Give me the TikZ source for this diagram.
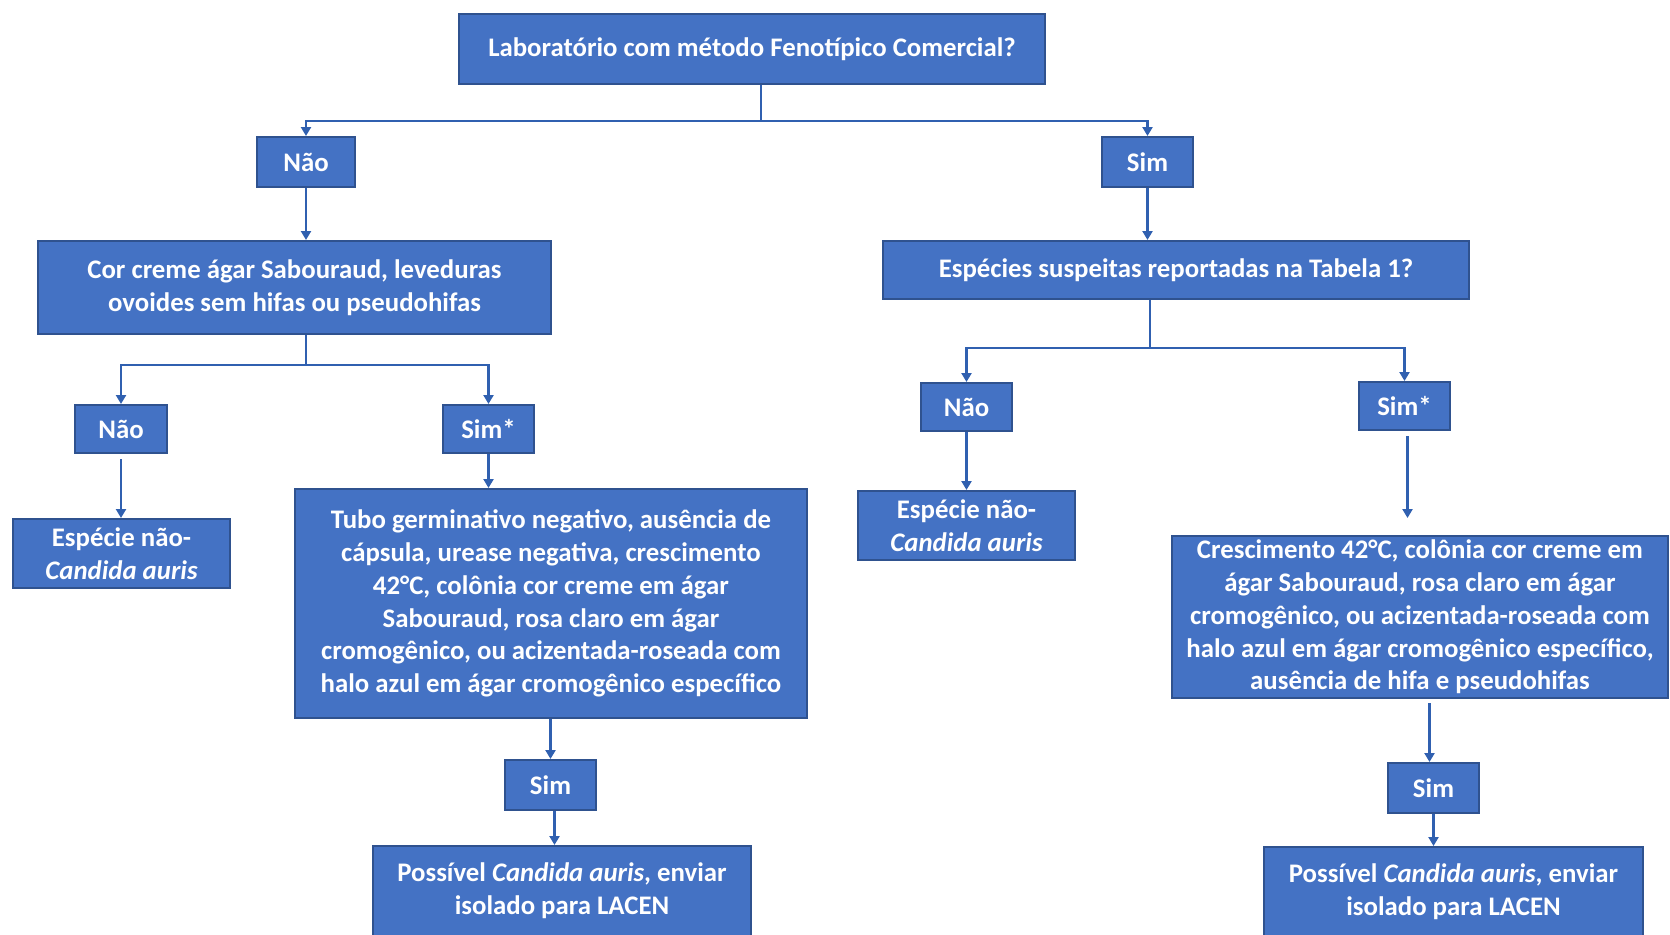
\documentclass[tikz,border=0pt]{standalone}
\usepackage{fontspec}
\setmainfont{Carlito}
\usetikzlibrary{arrows.meta}
\definecolor{boxfill}{HTML}{4472C4}
\definecolor{boxline}{HTML}{2F528F}
\definecolor{linkcol}{HTML}{3060B0}
\tikzset{
  box/.style={draw=boxline, fill=boxfill, line width=1pt, text=white,
    font=\fontsize{13.4}{16.4}\selectfont\bfseries, inner sep=0pt, align=center},
  ln/.style={draw=linkcol, line width=1.4pt},
  arr/.style={ln, -{Triangle[width=5pt,length=4.5pt]}}
}
\begin{document}
\begin{tikzpicture}[x=0.5pt, y=-0.5pt]
\useasboundingbox (0,0) rectangle (1670,934);
\clip (0,0) rectangle (1670,934);

% question and answer boxes
\node[box, minimum width=293pt, minimum height=35pt] (top) at (752,49) {Laboratório com método Fenotípico Comercial?};
\node[box, minimum width=49pt, minimum height=25pt] (nao1) at (306,162) {Não};
\node[box, minimum width=45.5pt, minimum height=25pt] (sim1) at (1147.5,162) {Sim};
\node[box, minimum width=256.5pt, minimum height=46.5pt] (cor) at (294.5,287.5) {Cor creme ágar Sabouraud, leveduras\\ovoides sem hifas ou pseudohifas};
\node[box, minimum width=293pt, minimum height=29pt] (esp) at (1176,270) {Espécies suspeitas reportadas na Tabela 1?};
\node[box, minimum width=46pt, minimum height=24pt] (nao2) at (121,429) {Não};
\node[box, minimum width=45.5pt, minimum height=24pt] (sims2) at (488.5,429) {Sim*};
\node[box, minimum width=108.5pt, minimum height=34.5pt] (espL) at (121.5,553.5) {Espécie não-\\\itshape Candida auris};
\node[box, minimum width=256pt, minimum height=114.5pt] (tubo) at (551,603.5) {Tubo germinativo negativo, ausência de\\cápsula, urease negativa, crescimento\\42°C, colônia cor creme em ágar\\Sabouraud, rosa claro em ágar\\cromogênico, ou acizentada-roseada com\\halo azul em ágar cromogênico específico};
\node[box, minimum width=45.5pt, minimum height=25pt] (sim3) at (550.5,785) {Sim};
\node[box, minimum width=189pt, minimum height=45pt] (posL) at (562,891) {Possível \textit{Candida auris}, enviar\\isolado para LACEN};
\node[box, minimum width=45.5pt, minimum height=24pt] (nao4) at (966.5,407) {Não};
\node[box, minimum width=45.5pt, minimum height=24pt] (sims4) at (1404.5,406) {Sim*};
\node[box, minimum width=108.5pt, minimum height=34.5pt] (espR) at (966.5,525.5) {Espécie não-\\\itshape Candida auris};
\node[box, minimum width=248pt, minimum height=81pt] (cres) at (1420,617) {Crescimento 42°C, colônia cor creme em\\ágar Sabouraud, rosa claro em ágar\\cromogênico, ou acizentada-roseada com\\halo azul em ágar cromogênico específico,\\ausência de hifa e pseudohifas};
\node[box, minimum width=45.5pt, minimum height=25pt] (sim5) at (1433.5,788) {Sim};
\node[box, minimum width=189.5pt, minimum height=45pt] (posR) at (1453.5,892) {Possível \textit{Candida auris}, enviar\\isolado para LACEN};

% branch junctions
\coordinate (j1) at (761,121);
\coordinate (j2) at (306,365);
\coordinate (j3) at (1150,348);

% connectors
\draw[ln] (top.south -| j1) -- (j1);
\draw[arr] (j1) -| (nao1.north);
\draw[arr] (j1) -| (sim1.north);
\draw[arr] (nao1.south) -- (nao1.south |- cor.north);
\draw[arr] (sim1.south) -- (sim1.south |- esp.north);

\draw[ln] (cor.south -| j2) -- (j2);
\draw[arr] (j2) -| (nao2.north);
\draw[arr] (j2) -| (sims2.north);
\draw[arr, shorten <=2.5pt] (nao2.south) -- (nao2.south |- espL.north);
\draw[arr] (sims2.south) -- (sims2.south |- tubo.north);
\draw[arr] (sim3.north |- tubo.south) -- (sim3.north);
\draw[arr] ([xshift=2pt]sim3.south) -- ([xshift=2pt]sim3.south |- posL.north);

\draw[ln] (esp.south -| j3) -- (j3);
\draw[arr] (j3) -| (nao4.north);
\draw[arr] (j3) -| (sims4.north);
\draw[arr] (nao4.south) -- (nao4.south |- espR.north);
\draw[arr] ([xshift=1.5pt,yshift=-2.5pt]sims4.south) -- ([xshift=1.5pt,yshift=8.5pt]sims4.south |- cres.north);
\draw[arr] ([xshift=-2pt,yshift=-2pt]sim5.north |- cres.south) -- ([xshift=-2pt]sim5.north);
\draw[arr] (sim5.south) -- (sim5.south |- posR.north);
\end{tikzpicture}
\end{document}
